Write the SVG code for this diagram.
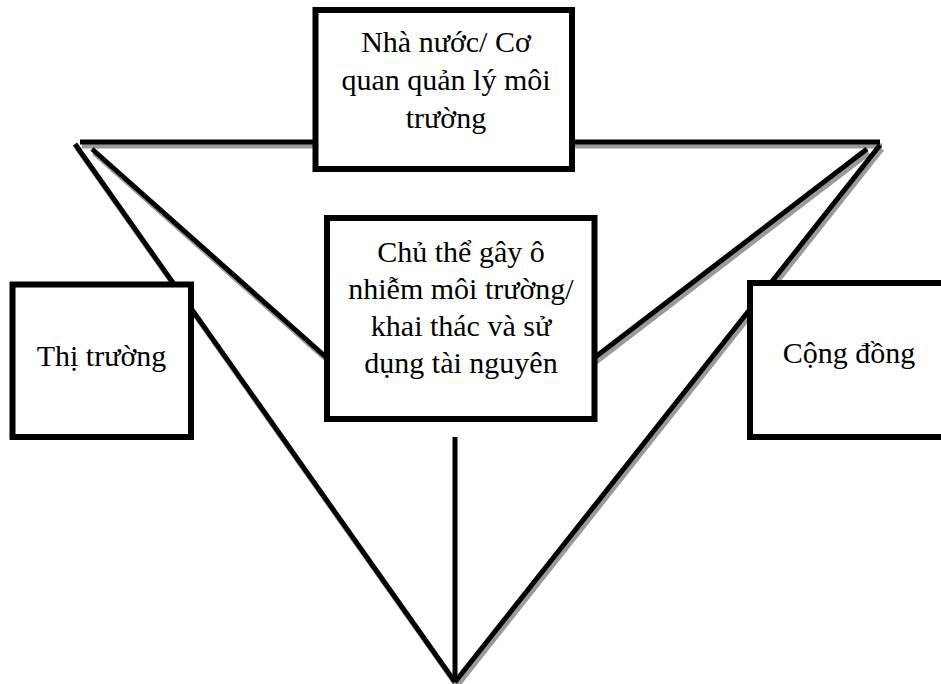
<svg xmlns="http://www.w3.org/2000/svg" width="941" height="684" viewBox="0 0 941 684">
<style>
.ln{stroke:#000;stroke-width:5;fill:none;stroke-linecap:butt}
.sh{stroke:#9a9a9a;stroke-width:5;fill:none}
.box{fill:#fff;stroke:#000;stroke-width:6}
.t{font-family:'Liberation Serif','Times New Roman',Tinos,'Noto Serif','DejaVu Serif','Nimbus Roman','Nimbus Roman No9 L','FreeSerif',Times,serif;font-size:30px;fill:#000;text-anchor:middle}
</style>
<rect width="941" height="684" fill="#fff"/>
<g id="connectors">
<g transform="translate(2,4)">
<line class="sh" x1="80" y1="142" x2="880" y2="142"/>
<line class="sh" x1="75" y1="144" x2="455" y2="682"/>
<line class="sh" x1="880" y1="145" x2="455" y2="682"/>
<line class="sh" x1="92" y1="149" x2="327" y2="358"/>
<line class="sh" x1="867" y1="149" x2="594" y2="358"/>
</g>
<line class="ln" x1="80" y1="142" x2="880" y2="142"/>
<line class="ln" x1="75" y1="144" x2="455" y2="682"/>
<line class="ln" x1="880" y1="145" x2="455" y2="682"/>
<line class="ln" x1="92" y1="149" x2="327" y2="358"/>
<line class="ln" x1="867" y1="149" x2="594" y2="358"/>
<line class="ln" x1="455" y1="437" x2="455" y2="682"/>
</g>
<g id="nha-nuoc">
<rect class="box" x="315.5" y="10" width="256.5" height="159"/>
<text class="t" x="446" y="52">Nhà nước/ Cơ</text>
<text class="t" x="446" y="90">quan quản lý môi</text>
<text class="t" x="446" y="128">trường</text>
</g>
<g id="chu-the">
<rect class="box" x="327" y="218" width="267.5" height="201"/>
<text class="t" x="461" y="262">Chủ thể gây ô</text>
<text class="t" x="461" y="299">nhiễm môi trường/</text>
<text class="t" x="461" y="336">khai thác và sử</text>
<text class="t" x="461" y="373">dụng tài nguyên</text>
</g>
<g id="thi-truong">
<rect class="box" x="12.5" y="284.5" width="178.5" height="152.5"/>
<text class="t" x="101.5" y="366">Thị trường</text>
</g>
<g id="cong-dong">
<rect class="box" x="750" y="283" width="196" height="154"/>
<text class="t" x="849" y="363">Cộng đồng</text>
</g>
</svg>
